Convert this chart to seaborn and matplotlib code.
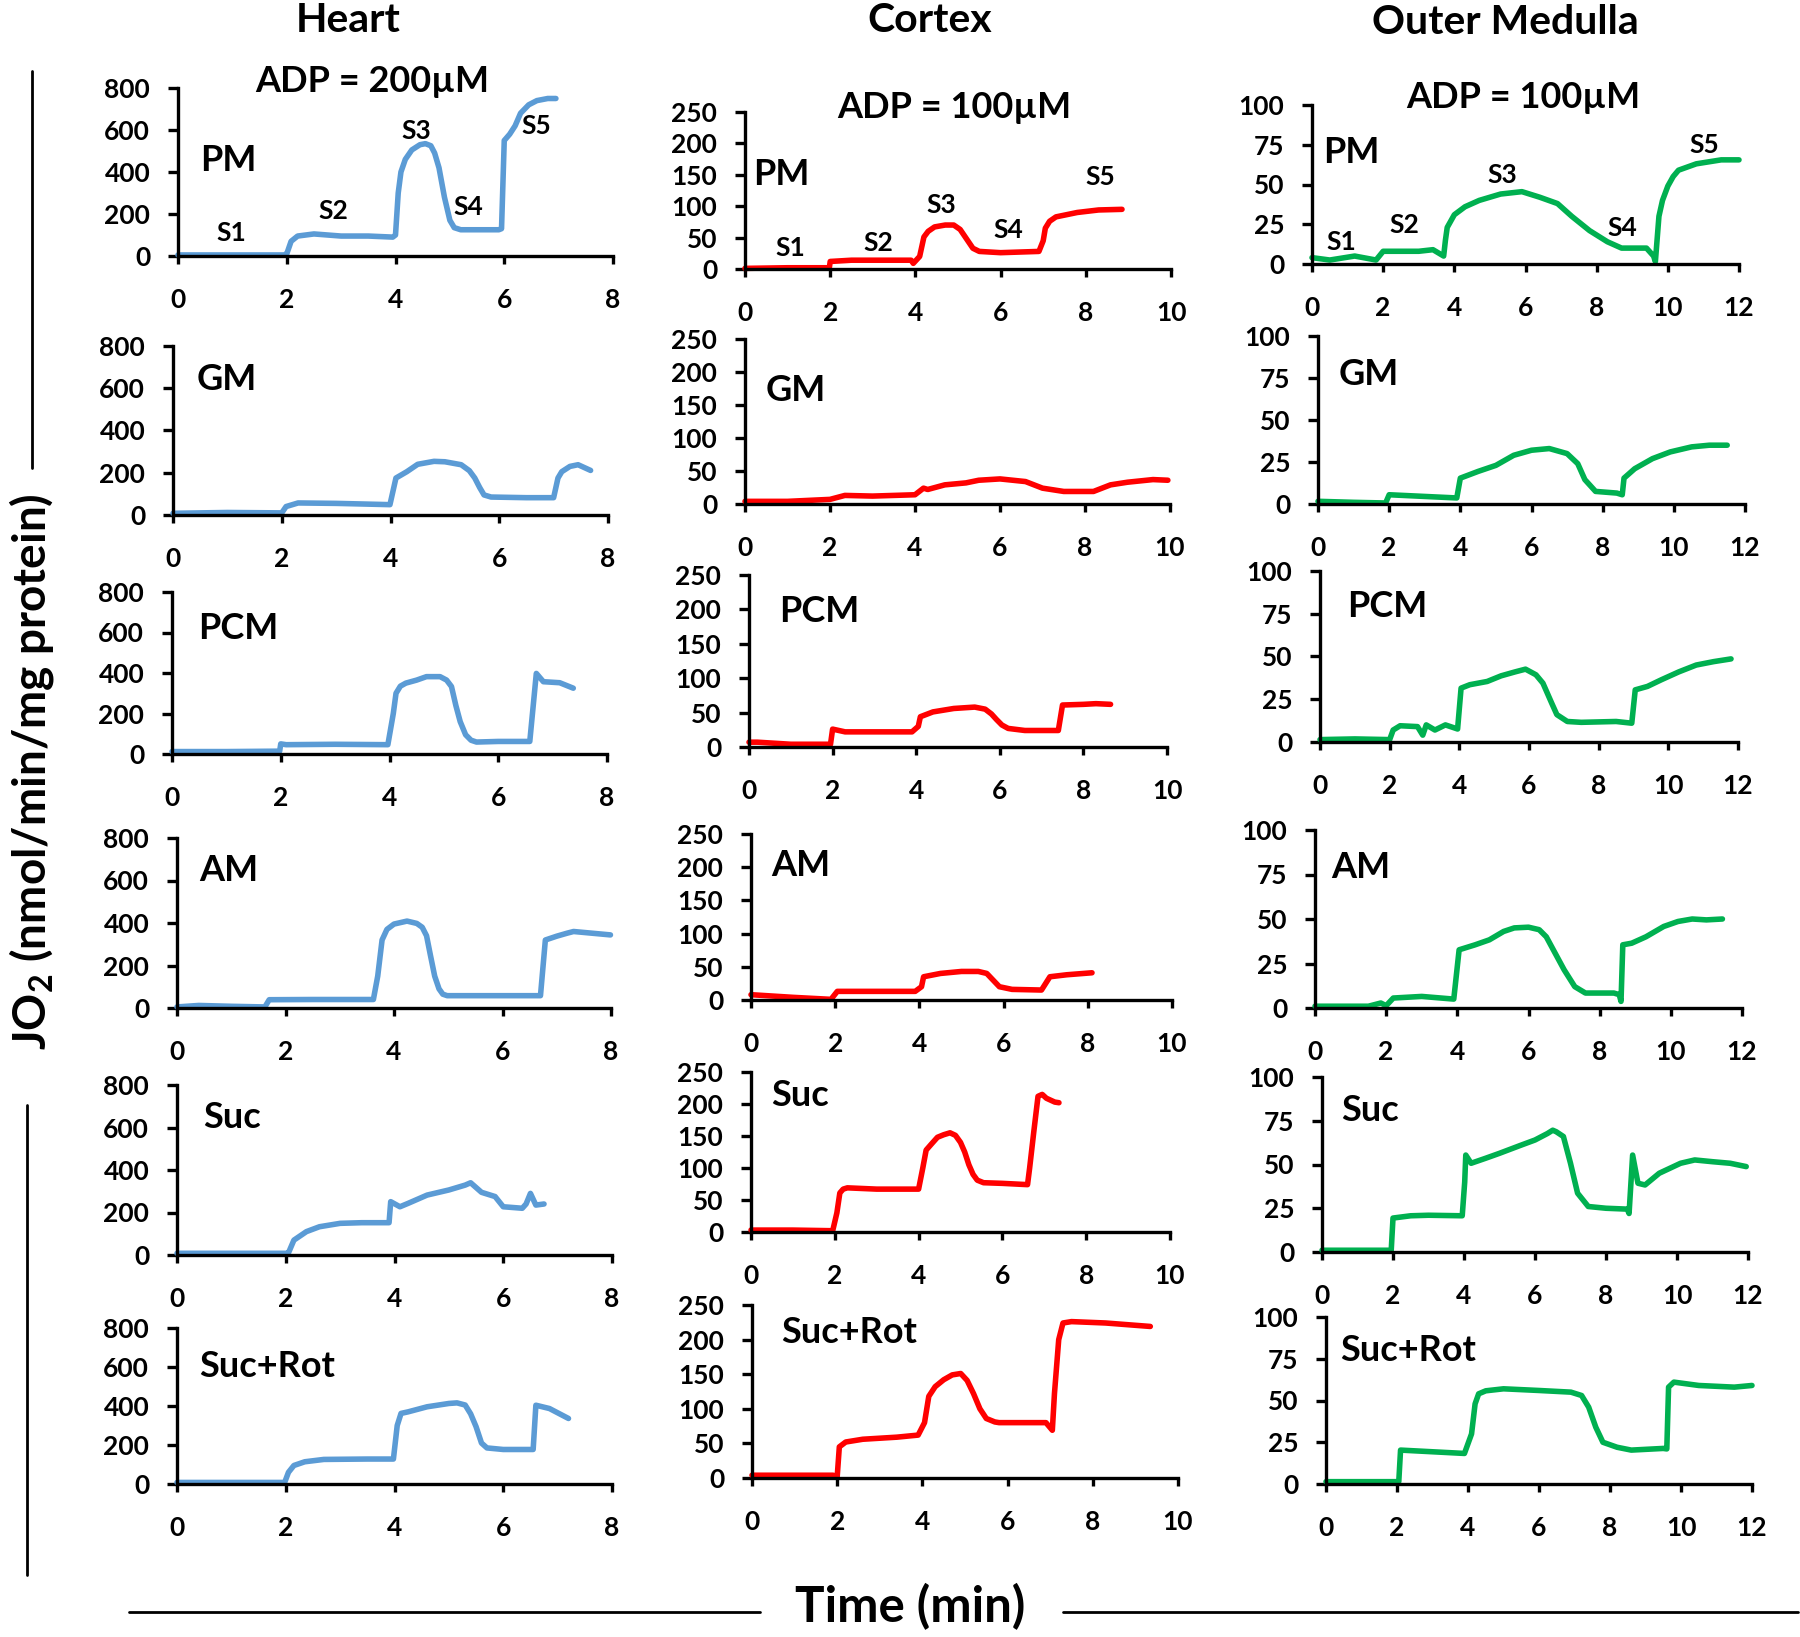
import matplotlib
matplotlib.use("Agg")
import matplotlib.pyplot as plt
import seaborn as sns

# ---------------- data ----------------
# Heart, ADP = 200 uM
heart_pm_t = [0, 1, 1.95, 2.0, 2.08, 2.2, 2.5, 3.0, 3.5, 3.95, 4.0, 4.05, 4.1, 4.18, 4.3, 4.45, 4.55, 4.65, 4.72, 4.8, 4.9, 5.0, 5.08, 5.2, 5.9, 5.95, 6.0, 6.1, 6.2, 6.3, 6.45, 6.6, 6.8, 6.95]
heart_pm_y = [5, 5, 5, 10, 70, 95, 105, 95, 95, 90, 100, 300, 400, 460, 505, 530, 535, 525, 490, 420, 280, 170, 135, 125, 125, 130, 550, 580, 620, 680, 720, 740, 750, 750]
heart_gm_t = [0, 1, 2.0, 2.08, 2.3, 3.0, 3.5, 3.99, 4.1, 4.3, 4.5, 4.8, 5.0, 5.3, 5.45, 5.55, 5.64, 5.72, 5.85, 6.5, 7.0, 7.08, 7.15, 7.3, 7.45, 7.68]
heart_gm_y = [8, 12, 10, 40, 57, 55, 52, 49, 175, 205, 240, 254, 252, 238, 210, 175, 130, 95, 85, 82, 82, 175, 205, 230, 238, 211]
heart_pcm_t = [0, 1, 1.98, 2.0, 2.1, 3.0, 3.97, 4.07, 4.12, 4.2, 4.3, 4.5, 4.68, 4.93, 5.05, 5.14, 5.22, 5.3, 5.4, 5.5, 5.6, 6.0, 6.58, 6.7, 6.83, 7.13, 7.38]
heart_pcm_y = [12, 12, 14, 50, 46, 48, 46, 200, 300, 335, 350, 365, 382, 382, 365, 333, 240, 160, 95, 68, 59, 62, 62, 398, 357, 352, 325]
heart_am_t = [0, 0.4, 1.0, 1.62, 1.7, 2.5, 3.62, 3.7, 3.78, 3.87, 4.0, 4.24, 4.42, 4.52, 4.6, 4.67, 4.75, 4.83, 4.9, 4.98, 6.0, 6.7, 6.79, 7.0, 7.19, 7.31, 7.99]
heart_am_y = [5, 12, 8, 5, 39, 40, 40, 150, 320, 370, 395, 409, 398, 380, 340, 250, 150, 90, 65, 58, 58, 58, 320, 338, 352, 360, 344]
heart_suc_t = [0, 1, 2.0, 2.05, 2.15, 2.38, 2.62, 3.0, 3.4, 3.9, 3.93, 4.1, 4.25, 4.6, 5.0, 5.3, 5.4, 5.6, 5.85, 6.0, 6.35, 6.42, 6.5, 6.6, 6.75]
heart_suc_y = [8, 8, 8, 10, 70, 110, 133, 149, 152, 152, 251, 227, 243, 282, 306, 329, 340, 295, 275, 227, 220, 240, 290, 235, 240]
heart_sucrot_t = [0, 1, 1.98, 2.05, 2.15, 2.35, 2.7, 3.5, 3.98, 4.05, 4.12, 4.25, 4.6, 5.0, 5.15, 5.3, 5.4, 5.5, 5.6, 5.7, 6.0, 6.55, 6.6, 6.85, 7.2]
heart_sucrot_y = [8, 8, 8, 60, 95, 114, 126, 128, 128, 300, 362, 370, 396, 413, 416, 405, 360, 294, 210, 185, 177, 177, 404, 387, 336]

# Cortex, ADP = 100 uM
cortex_pm_t = [0, 1, 1.98, 2.0, 2.5, 3.5, 3.9, 3.95, 4.1, 4.2, 4.3, 4.45, 4.7, 4.9, 5.05, 5.2, 5.35, 5.5, 6.0, 6.9, 7.0, 7.05, 7.15, 7.3, 7.8, 8.3, 8.85]
cortex_pm_y = [1, 2, 2, 12, 14, 14, 14, 9, 20, 51, 60, 67, 70, 70, 63, 48, 33, 28, 26, 28, 45, 65, 76, 83, 90, 94, 95]
cortex_gm_t = [0, 1, 2.0, 2.35, 3.0, 4.0, 4.2, 4.3, 4.7, 5.2, 5.5, 6.0, 6.6, 7.0, 7.5, 8.2, 8.6, 9.0, 9.6, 9.95]
cortex_gm_y = [4, 4, 7, 13, 12, 14, 24, 22, 29, 32, 36, 38, 34, 24, 19, 19, 29, 33, 37, 36]
cortex_pcm_t = [0, 0.2, 1.0, 1.95, 2.0, 2.3, 3.9, 4.05, 4.1, 4.4, 4.9, 5.4, 5.65, 5.8, 5.92, 6.05, 6.2, 6.6, 7.4, 7.5, 8.0, 8.3, 8.65]
cortex_pcm_y = [7, 7, 4, 4, 26, 22, 22, 30, 44, 51, 56, 58, 55, 48, 40, 32, 27, 24, 24, 61, 62, 63, 62]
cortex_am_t = [0, 1.0, 1.9, 2.05, 3.0, 3.9, 4.05, 4.1, 4.5, 5.0, 5.4, 5.6, 5.75, 5.9, 6.2, 6.9, 7.0, 7.1, 7.5, 8.1]
cortex_am_y = [8, 4, 1, 13, 13, 13, 20, 35, 40, 43, 43, 40, 30, 20, 16, 15, 25, 35, 38, 41]
cortex_suc_t = [0, 1.0, 1.95, 2.05, 2.12, 2.2, 2.3, 3.0, 4.0, 4.1, 4.18, 4.3, 4.45, 4.6, 4.75, 4.88, 5.0, 5.1, 5.2, 5.3, 5.4, 5.55, 6.0, 6.6, 6.65, 6.75, 6.85, 6.95, 7.05, 7.25, 7.35]
cortex_suc_y = [3, 3, 2, 30, 61, 67, 69, 67, 67, 100, 128, 137, 148, 152, 155, 151, 140, 125, 105, 90, 81, 77, 76, 74, 100, 157, 212, 215, 209, 203, 202]
cortex_sucrot_t = [0, 1.0, 1.9, 2.0, 2.05, 2.2, 2.6, 3.4, 3.9, 4.05, 4.15, 4.3, 4.5, 4.7, 4.9, 5.05, 5.2, 5.35, 5.5, 5.7, 5.8, 6.9, 7.05, 7.1, 7.2, 7.3, 7.5, 8.3, 9.35]
cortex_sucrot_y = [4, 4, 4, 2, 45, 52, 56, 59, 62, 80, 118, 132, 142, 149, 151, 141, 122, 100, 86, 81, 80, 80, 69, 122, 200, 224, 226, 224, 219]

# Outer medulla, ADP = 100 uM
om_pm_t = [0, 0.5, 1.2, 1.8, 2.0, 3.0, 3.4, 3.7, 3.75, 3.8, 4.0, 4.3, 4.7, 5.3, 5.9, 6.4, 6.9, 7.3, 7.8, 8.3, 8.7, 9.4, 9.6, 9.65, 9.75, 9.85, 10.0, 10.15, 10.3, 10.8, 11.5, 12.0]
om_pm_y = [4, 2.5, 5, 2.5, 8, 8, 9, 5, 15, 23, 31, 36, 40, 44, 45.5, 42, 38, 30, 21, 14, 10, 10, 5, 1.5, 30, 40, 49, 55, 59, 63, 65.5, 65.5]
om_gm_t = [0, 1.0, 1.9, 2.0, 3.0, 3.9, 4.0, 4.5, 5.0, 5.5, 6.0, 6.5, 7.0, 7.3, 7.5, 7.8, 8.4, 8.55, 8.6, 8.9, 9.4, 9.9, 10.5, 11.0, 11.5]
om_gm_y = [1.6, 1, 0.6, 5.5, 4.5, 3.6, 15.4, 19.4, 23, 29, 32, 33, 30, 24, 14.5, 7.5, 6.5, 5.5, 15.4, 21, 27, 31, 34, 35, 35]
om_pcm_t = [0, 1.0, 2.0, 2.1, 2.3, 2.8, 2.95, 3.05, 3.3, 3.6, 3.95, 4.05, 4.3, 4.8, 5.2, 5.6, 5.9, 6.2, 6.4, 6.65, 6.8, 7.1, 7.5, 8.5, 8.95, 9.05, 9.4, 9.8, 10.3, 10.8, 11.3, 11.8]
om_pcm_y = [1.4, 1.8, 1.4, 7, 9.5, 9, 4, 10, 7, 10, 7.6, 31.5, 33.5, 35.4, 38.7, 41, 42.6, 39.3, 34.4, 22.8, 16, 12, 11.5, 12, 11, 30.5, 32.5, 36.4, 41, 45, 47, 48.6]
om_am_t = [0, 1.5, 1.85, 2.0, 2.2, 3.0, 3.9, 4.05, 4.5, 4.9, 5.3, 5.6, 6.0, 6.3, 6.5, 7.0, 7.3, 7.6, 8.4, 8.55, 8.6, 8.65, 8.9, 9.3, 9.8, 10.2, 10.6, 11.0, 11.45]
om_am_y = [1, 1, 2.8, 1.3, 5.6, 6.5, 5, 32.7, 35.5, 38.3, 43, 45, 45.4, 44, 40, 21.5, 12, 8.4, 8.4, 7.5, 3.7, 35.5, 36.4, 40, 45.8, 48.6, 50, 49.5, 50]
om_suc_t = [0, 1.0, 1.95, 2.0, 2.5, 3.0, 3.95, 4.02, 4.05, 4.2, 4.6, 5.0, 5.6, 6.0, 6.35, 6.5, 6.6, 6.8, 7.0, 7.2, 7.5, 8.0, 8.6, 8.65, 8.75, 8.9, 9.1, 9.5, 10.1, 10.5, 11.0, 11.5, 11.95]
om_suc_y = [1, 1, 1, 19.4, 20.7, 21, 20.7, 40, 55.4, 50.7, 53.5, 56.4, 61, 64, 67.7, 69.6, 68.7, 66, 50.7, 33.6, 26, 25, 24.5, 22, 55.4, 39.3, 38.3, 45, 50.7, 52.6, 51.6, 50.7, 48.8]
om_sucrot_t = [0, 1.0, 2.05, 2.1, 3.0, 3.9, 4.1, 4.2, 4.3, 4.5, 5.0, 6.0, 6.9, 7.2, 7.4, 7.6, 7.8, 8.2, 8.6, 9.5, 9.6, 9.65, 9.8, 10.5, 11.5, 12.0]
om_sucrot_y = [1.4, 1.4, 1.4, 20.3, 19.3, 18.3, 30, 48, 54, 55.8, 57, 56, 55, 53, 46, 34, 25, 22, 20.3, 21.3, 21, 58, 61, 59, 58, 59]

substrates = ["PM", "GM", "PCM", "AM", "Suc", "Suc+Rot"]
columns = ["Heart", "Cortex", "Outer Medulla"]
adp_labels = ["ADP = 200µM", "ADP = 100µM", "ADP = 100µM"]
stage_labels = ["S1", "S2", "S3", "S4", "S5"]

series = [
    [(heart_pm_t, heart_pm_y), (heart_gm_t, heart_gm_y), (heart_pcm_t, heart_pcm_y),
     (heart_am_t, heart_am_y), (heart_suc_t, heart_suc_y), (heart_sucrot_t, heart_sucrot_y)],
    [(cortex_pm_t, cortex_pm_y), (cortex_gm_t, cortex_gm_y), (cortex_pcm_t, cortex_pcm_y),
     (cortex_am_t, cortex_am_y), (cortex_suc_t, cortex_suc_y), (cortex_sucrot_t, cortex_sucrot_y)],
    [(om_pm_t, om_pm_y), (om_gm_t, om_gm_y), (om_pcm_t, om_pcm_y),
     (om_am_t, om_am_y), (om_suc_t, om_suc_y), (om_sucrot_t, om_sucrot_y)],
]

# ---------------- style / layout ----------------
col_colors = ["#5B9BD5", "#FF0000", "#00B050"]
col_xmax = [8, 10, 12]
col_ymax = [800, 250, 100]
col_yticks = [[0, 200, 400, 600, 800], [0, 50, 100, 150, 200, 250], [0, 25, 50, 75, 100]]

# axes boxes in pixels: (x at t=0, x at t=max, y at 0, y at max)
boxes = [
    [(178, 613, 256, 88), (173, 608, 515, 346), (172, 607, 754, 592),
     (177, 611, 1008, 838), (177, 612, 1255, 1085), (177, 612, 1484, 1328)],
    [(745, 1171, 269, 112), (745, 1170, 504, 339), (749, 1167, 747, 575),
     (751, 1172, 1000, 834), (751, 1170, 1232, 1072), (752, 1178, 1478, 1305)],
    [(1312, 1739, 264, 105), (1318, 1745, 504, 336), (1320, 1738, 742, 571),
     (1315, 1742, 1008, 830), (1322, 1748, 1252, 1077), (1326, 1752, 1484, 1317)],
]
# substrate label position, axes fraction (left, center)
label_pos = [
    [(0.05, 0.57), (0.054, 0.80), (0.06, 0.775), (0.052, 0.81), (0.061, 0.81), (0.05, 0.755)],
    [(0.018, 0.60), (0.049, 0.69), (0.071, 0.79), (0.049, 0.81), (0.049, 0.85), (0.069, 0.84)],
    [(0.027, 0.70), (0.049, 0.77), (0.065, 0.79), (0.037, 0.79), (0.044, 0.81), (0.034, 0.80)],
]
# stage labels for the PM row, data coords
stage_x = [[0.98, 2.85, 4.39, 5.34, 6.58], [1.06, 3.12, 4.6, 6.19, 8.34], [0.81, 2.59, 5.34, 8.72, 11.02]]
stage_y = [[108, 216, 593, 235, 617], [33, 41, 102, 62, 146], [14, 24.6, 56, 22.4, 75]]
adp_xy = [(372, 82), (954, 107), (1523, 97)]
title_xy = [(348, 21), (930, 21), (1505, 23)]

W, H = 1800, 1637
sns.set_style("ticks")
plt.rcParams["font.family"] = ["Lato", "DejaVu Sans"]
plt.rcParams["text.color"] = "black"
plt.rcParams["mathtext.fontset"] = "custom"
plt.rcParams["mathtext.rm"] = "Lato:bold"
plt.rcParams["mathtext.bf"] = "Lato:bold"
WT = "bold"

fig = plt.figure(figsize=(W / 100, H / 100), dpi=100)

for c in range(3):
    for r in range(6):
        x0, x1, y0, y1 = boxes[c][r]
        ax = fig.add_axes([x0 / W, 1 - y0 / H, (x1 - x0) / W, (y0 - y1) / H])
        t, v = series[c][r]
        sns.lineplot(x=t, y=v, ax=ax, color=col_colors[c], linewidth=4.0,
                     estimator=None, sort=False, clip_on=False)
        ax.lines[-1].set_solid_joinstyle("round")
        ax.set_xlim(0, col_xmax[c])
        ax.set_ylim(0, col_ymax[c])
        ax.set_xticks(range(0, col_xmax[c] + 1, 2))
        ax.set_yticks(col_yticks[c])
        ax.set_xlabel("")
        ax.set_ylabel("")
        for side in ["top", "right"]:
            ax.spines[side].set_visible(False)
        for side in ["left", "bottom"]:
            ax.spines[side].set_linewidth(2.4)
            ax.spines[side].set_color("black")
        ax.tick_params(axis="x", direction="out", length=6, width=2.4, pad=17,
                       labelsize=19, colors="black")
        ax.tick_params(axis="y", direction="out", length=7, width=2.4, pad=13,
                       labelsize=19, colors="black")
        for lab in ax.get_xticklabels() + ax.get_yticklabels():
            lab.set_fontweight(WT)
        lx, ly = label_pos[c][r]
        ax.text(lx, ly, substrates[r], transform=ax.transAxes, ha="left", va="center",
                fontsize=26, fontweight=WT)
        if r == 0:
            for s, sx, sy in zip(stage_labels, stage_x[c], stage_y[c]):
                ax.text(sx, sy, s, ha="center", va="center", fontsize=19, fontweight=WT)

    ax_x, ax_y = adp_xy[c]
    fig.text(ax_x / W, 1 - ax_y / H, adp_labels[c], ha="center", va="center",
             fontsize=26, fontweight=WT)
    tx, ty = title_xy[c]
    fig.text(tx / W, 1 - ty / H, columns[c], ha="center", va="center",
             fontsize=29.5, fontweight=WT)

# shared axis labels with their rule lines
fig.text(910 / W, 1 - 1607 / H, "Time (min)", ha="center", va="center",
         fontsize=35.5, fontweight=WT)
fig.add_artist(plt.Line2D([129 / W, 760 / W], [1 - 1612 / H, 1 - 1612 / H],
                          color="black", linewidth=2))
fig.add_artist(plt.Line2D([1063 / W, 1 - 2 / W], [1 - 1612 / H, 1 - 1612 / H],
                          color="black", linewidth=2))

fig.text(32 / W, 1 - 772 / H, r"JO$_\mathbf{2}$ (nmol/min/mg protein)", ha="center",
         va="center", rotation=90, fontsize=33, fontweight=WT)
fig.add_artist(plt.Line2D([32 / W, 32 / W], [1 - 71 / H, 1 - 468 / H],
                          color="black", linewidth=2))
fig.add_artist(plt.Line2D([27 / W, 27 / W], [1 - 1105 / H, 1 - 1575 / H],
                          color="black", linewidth=2))

fig.savefig("out.png", dpi=100)
